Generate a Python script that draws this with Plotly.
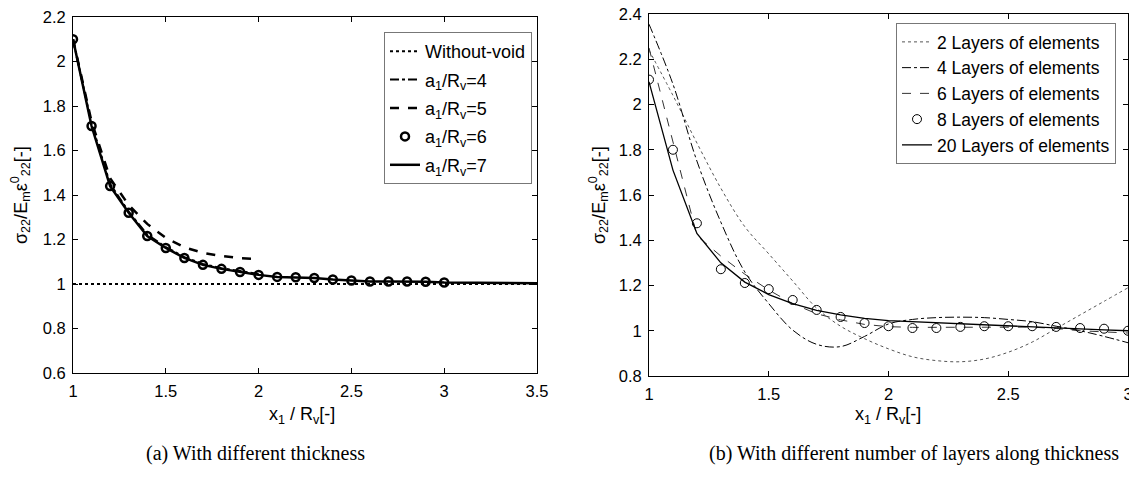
import plotly.graph_objects as go

# ---------------- data: panel (a) ----------------
xa_fine = [1.0, 1.1, 1.2, 1.3, 1.4, 1.5, 1.6, 1.7, 1.8, 1.9, 2.0,
           2.1, 2.2, 2.3, 2.4, 2.5, 2.6, 2.7, 2.8, 2.9, 3.0]
xa_long = xa_fine + [3.1, 3.2, 3.3, 3.4, 3.5]
xa_short = [1.0, 1.1, 1.2, 1.3, 1.4, 1.5, 1.6, 1.7, 1.8, 1.9, 2.0]
without_void_x = [1.0, 3.5]
without_void_y = [1.0, 1.0]
a4_y = [2.10, 1.72, 1.45, 1.325, 1.222, 1.166, 1.121, 1.09, 1.071, 1.057, 1.045]
a5_y = [2.10, 1.73, 1.475, 1.355, 1.27, 1.207, 1.165, 1.14, 1.126, 1.116, 1.112]
a6_y = [2.10, 1.71, 1.44, 1.32, 1.216, 1.162, 1.117, 1.086, 1.068, 1.054, 1.041,
        1.032, 1.030, 1.027, 1.020, 1.016, 1.011, 1.011, 1.011, 1.010, 1.007]
a7_y = [2.10, 1.71, 1.44, 1.32, 1.216, 1.162, 1.117, 1.086, 1.068, 1.054, 1.041,
        1.032, 1.030, 1.027, 1.020, 1.016, 1.011, 1.011, 1.011, 1.010, 1.007,
        1.006, 1.005, 1.004, 1.003, 1.003]

# ---------------- data: panel (b) ----------------
xb = [1.0, 1.1, 1.2, 1.3, 1.4, 1.5, 1.6, 1.7, 1.8, 1.9, 2.0,
      2.1, 2.2, 2.3, 2.4, 2.5, 2.6, 2.7, 2.8, 2.9, 3.0]
l2_y = [2.24, 2.04, 1.83, 1.63, 1.46, 1.34, 1.22, 1.10, 1.02, 0.965, 0.92,
        0.885, 0.868, 0.863, 0.875, 0.905, 0.95, 1.01, 1.07, 1.13, 1.19]
l4_y = [2.355, 2.09, 1.75, 1.48, 1.26, 1.12, 1.003, 0.94, 0.93, 0.975, 1.03,
        1.05, 1.058, 1.06, 1.058, 1.05, 1.04, 1.02, 1.0, 0.975, 0.947]
l6_y = [2.25, 1.83, 1.42, 1.33, 1.25, 1.18, 1.12, 1.075, 1.048, 1.028, 1.018,
        1.015, 1.015, 1.016, 1.018, 1.018, 1.016, 1.01, 1.0, 0.995, 0.99]
l8_y = [2.11, 1.80, 1.475, 1.272, 1.211, 1.184, 1.136, 1.092, 1.061, 1.034, 1.02,
        1.012, 1.012, 1.017, 1.02, 1.02, 1.02, 1.017, 1.012, 1.009, 1.0]
l20_y = [2.10, 1.71, 1.43, 1.30, 1.215, 1.16, 1.12, 1.09, 1.07, 1.055, 1.045,
         1.04, 1.035, 1.03, 1.025, 1.022, 1.018, 1.013, 1.008, 1.004, 1.0]

# ---------------- tick labels ----------------
xa_ticks = [1, 1.5, 2, 2.5, 3, 3.5]
xa_text = ["1", "1.5", "2", "2.5", "3", "3.5"]
ya_ticks = [0.6, 0.8, 1.0, 1.2, 1.4, 1.6, 1.8, 2.0, 2.2]
ya_text = ["0.6", "0.8", "1", "1.2", "1.4", "1.6", "1.8", "2", "2.2"]
xb_ticks = [1, 1.5, 2, 2.5, 3]
xb_text = ["1", "1.5", "2", "2.5", "3"]
yb_ticks = [0.8, 1.0, 1.2, 1.4, 1.6, 1.8, 2.0, 2.2, 2.4]
yb_text = ["0.8", "1", "1.2", "1.4", "1.6", "1.8", "2", "2.2", "2.4"]

a_names = ["Without-void", "a<sub>1</sub>/R<sub>v</sub>=4", "a<sub>1</sub>/R<sub>v</sub>=5",
           "a<sub>1</sub>/R<sub>v</sub>=6", "a<sub>1</sub>/R<sub>v</sub>=7"]
b_names = ["2 Layers of elements", "4 Layers of elements", "6 Layers of elements",
           "8 Layers of elements", "20 Layers of elements"]

ytitle = "σ<sub>22</sub>/E<sub>m</sub>ε<sup>0</sup><sub>22</sub>[-]"
xtitle = "x<sub>1</sub> / R<sub>v</sub>[-]"

fig = go.Figure()
K = "black"
# panel (a)
fig.add_trace(go.Scatter(x=without_void_x, y=without_void_y, mode="lines", name=a_names[0],
                         legendgroup="a0", line=dict(color=K, width=2, dash="dot"),
                         xaxis="x", yaxis="y", legend="legend"))
fig.add_trace(go.Scatter(x=xa_short, y=a4_y, mode="lines", name=a_names[1], legendgroup="a1",
                         line=dict(color=K, width=2, dash="dashdot"), xaxis="x", yaxis="y", legend="legend"))
fig.add_trace(go.Scatter(x=xa_short, y=a5_y, mode="lines", name=a_names[2], legendgroup="a2",
                         line=dict(color=K, width=2.5, dash="dash"), xaxis="x", yaxis="y", legend="legend"))
fig.add_trace(go.Scatter(x=xa_fine, y=a6_y, mode="markers", name=a_names[3], legendgroup="a3",
                         marker=dict(symbol="circle-open", size=8, color=K, line=dict(width=2.5, color=K)),
                         xaxis="x", yaxis="y", legend="legend"))
fig.add_trace(go.Scatter(x=xa_long, y=a7_y, mode="lines", name=a_names[4], legendgroup="a4",
                         line=dict(color=K, width=2.5), xaxis="x", yaxis="y", legend="legend"))
# panel (b)
fig.add_trace(go.Scatter(x=xb, y=l2_y, mode="lines", name=b_names[0], line_shape="spline",
                         line=dict(color="#555", width=1, dash="dot"), xaxis="x2", yaxis="y2", legend="legend2"))
fig.add_trace(go.Scatter(x=xb, y=l4_y, mode="lines", name=b_names[1], line_shape="spline",
                         line=dict(color=K, width=1, dash="dashdot"), xaxis="x2", yaxis="y2", legend="legend2"))
fig.add_trace(go.Scatter(x=xb, y=l6_y, mode="lines", name=b_names[2],
                         line=dict(color="#333", width=1, dash="dash"), xaxis="x2", yaxis="y2", legend="legend2"))
fig.add_trace(go.Scatter(x=xb, y=l8_y, mode="markers", name=b_names[3],
                         marker=dict(symbol="circle-open", size=9, color=K, line=dict(width=1, color=K)),
                         xaxis="x2", yaxis="y2", legend="legend2"))
fig.add_trace(go.Scatter(x=xb, y=l20_y, mode="lines", name=b_names[4],
                         line=dict(color=K, width=1.3), xaxis="x2", yaxis="y2", legend="legend2"))

# page has an 8px body margin: figure coordinates = page pixel - 8
OFF = 8
W, H = 1137 - OFF, 481 - OFF


def px(x):
    return (x - OFF) / W


def py(y):
    return 1 - (y - OFF) / H


FONT = "Liberation Sans, Arial"
axis_common = dict(showline=True, linecolor=K, linewidth=1, mirror="ticks", ticks="inside",
                   ticklen=5, tickcolor=K, showgrid=False, zeroline=False, automargin=False,
                   ticklabelstandoff=3, ticklabeloverflow="allow",
                   tickfont=dict(family=FONT, size=16.5, color=K))

fig.update_layout(
    template="none",
    width=W, height=H, margin=dict(l=0, r=0, t=0, b=0, autoexpand=False),
    paper_bgcolor="white", plot_bgcolor="white", showlegend=True,
    xaxis=dict(domain=[px(73), px(537)], range=[1, 3.5], tickvals=xa_ticks, ticktext=xa_text,
               anchor="y", **axis_common),
    yaxis=dict(domain=[py(373), py(17)], range=[0.6, 2.2], tickvals=ya_ticks, ticktext=ya_text,
               anchor="x", **axis_common),
    xaxis2=dict(domain=[px(649), px(1128)], range=[1, 3], tickvals=xb_ticks, ticktext=xb_text,
                anchor="y2", **axis_common),
    yaxis2=dict(domain=[py(376), py(14)], range=[0.8, 2.4], tickvals=yb_ticks, ticktext=yb_text,
                anchor="x2", **axis_common),
    legend=dict(x=px(384), y=py(32), xanchor="left", yanchor="top", bgcolor="white",
                bordercolor="#777", borderwidth=1, tracegroupgap=2,
                font=dict(family=FONT, size=18, color=K)),
    legend2=dict(x=px(1116), y=py(23), xanchor="right", yanchor="top", bgcolor="white",
                 bordercolor="#777", borderwidth=1,
                 font=dict(family=FONT, size=17.5, color=K)),
)

ann_font = dict(family=FONT, size=18, color=K)
cap_font = dict(family="Liberation Serif, Times New Roman", size=20, color=K)
fig.add_annotation(text=xtitle, x=px(302), y=py(415), xref="paper", yref="paper",
                   showarrow=False, font=ann_font, xanchor="center", yanchor="middle")
fig.add_annotation(text=xtitle, x=px(888), y=py(415), xref="paper", yref="paper",
                   showarrow=False, font=ann_font, xanchor="center", yanchor="middle")
fig.add_annotation(text=ytitle, x=px(20), y=py(195), xref="paper", yref="paper", textangle=-90,
                   showarrow=False, font=ann_font, xanchor="center", yanchor="middle")
fig.add_annotation(text=ytitle, x=px(598), y=py(195), xref="paper", yref="paper", textangle=-90,
                   showarrow=False, font=ann_font, xanchor="center", yanchor="middle")
fig.add_annotation(text="(a) With different thickness", x=px(255), y=py(453), xref="paper",
                   yref="paper", showarrow=False, font=cap_font, xanchor="center", yanchor="middle")
fig.add_annotation(text="(b) With different number of layers along thickness", x=px(914), y=py(453),
                   xref="paper", yref="paper", showarrow=False, font=cap_font,
                   xanchor="center", yanchor="middle")

fig.write_html("out.html")
